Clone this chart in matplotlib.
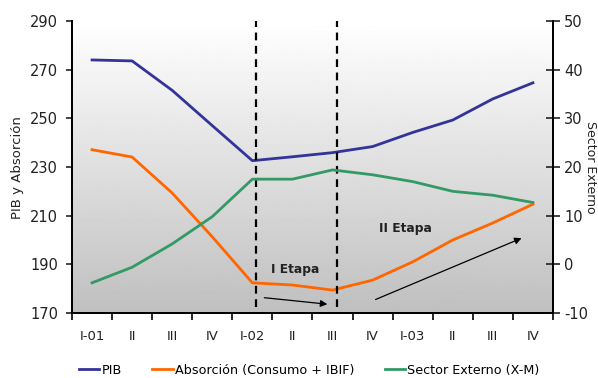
import numpy as np
import matplotlib
matplotlib.use("Agg")
import matplotlib.pyplot as plt

# trimestres 2001-2003
trimestres = ['I-01', 'II', 'III', 'IV', 'I-02', 'II', 'III', 'IV', 'I-03', 'II', 'III', 'IV']
pib = [274.0, 273.6, 261.5, 247.0, 232.6, 234.2, 235.9, 238.4, 244.2, 249.3, 258.0, 264.6]
absorcion = [237.1, 234.1, 219.3, 201.3, 182.4, 181.5, 179.4, 183.5, 191.0, 200.0, 207.0, 214.7]
sector_externo = [-3.8, -0.6, 4.2, 9.8, 17.5, 17.5, 19.4, 18.4, 17.0, 15.0, 14.2, 12.7]

etapas_x = [4.09, 6.1]

plt.rcParams['font.family'] = ['DejaVu Sans']
plt.rcParams['axes.unicode_minus'] = False
fig = plt.figure(figsize=(5.98, 3.78), dpi=100)
ax = fig.add_axes([0.1204, 0.172, 0.8043, 0.7724])
ax2 = ax.twinx()

x = np.arange(len(trimestres))

# fondo degradado
grad = np.linspace(0.75, 1.0, 256).reshape(-1, 1)
ax.imshow(grad, cmap='gray', vmin=0, vmax=1, aspect='auto', origin='lower',
          extent=[0, 1, 0, 1], transform=ax.transAxes, zorder=0)

ax.plot(x, pib, color='#333399', lw=2.0, zorder=3)
ax.plot(x, absorcion, color='#FF6600', lw=2.0, zorder=3)
ax2.plot(x, sector_externo, color='#339966', lw=2.0, zorder=3)

for xv in etapas_x:
    ax.axvline(xv, ymin=0.02, ymax=1, color='black', lw=1.6, ls=(0, (3.5, 2.5)), zorder=4)

ax.annotate('', xy=(5.94, 173.5), xytext=(4.23, 176.4),
            arrowprops=dict(arrowstyle='-|>', color='black', lw=0.9, mutation_scale=10), zorder=5)
ax.annotate('', xy=(10.78, 201.2), xytext=(7.01, 175.1),
            arrowprops=dict(arrowstyle='-|>', color='black', lw=0.9, mutation_scale=10), zorder=5)
ax.text(5.06, 187.7, 'I Etapa', fontsize=8.8, fontweight='bold', ha='center', va='center', color='#222222')
ax.text(7.83, 204.9, 'II Etapa', fontsize=8.8, fontweight='bold', ha='center', va='center', color='#222222')

ax.set_xlim(-0.5, 11.5)
ax.set_ylim(170, 290)
ax.set_yticks(np.arange(170, 291, 20))
ax2.set_ylim(-10, 50)
ax2.set_yticks(np.arange(-10, 51, 10))

ax.set_xticks(np.arange(-0.5, 12, 1))
ax.set_xticklabels([])
ax.set_xticks(x, minor=True)
ax.set_xticklabels(trimestres, minor=True)
ax.tick_params(axis='x', which='major', direction='out', length=5, width=1.2)
ax.tick_params(axis='x', which='minor', length=0, pad=12, labelsize=9.5, colors='#222222')
ax.tick_params(axis='y', direction='out', length=4, width=1.2, labelsize=10.5, pad=6, colors='#222222')
ax2.tick_params(axis='y', direction='inout', length=10, width=1.2, labelsize=10.5, pad=3, colors='#222222')

for a in (ax, ax2):
    a.spines['top'].set_visible(False)
    for s in ('left', 'right', 'bottom'):
        a.spines[s].set_linewidth(1.3)

fig.text(0.030, 0.558, 'PIB y Absorción', rotation=90, ha='center', va='center', fontsize=9.5, color='#222222')
fig.text(0.988, 0.558, 'Sector Externo', rotation=270, ha='center', va='center', fontsize=9, color='#222222')

handles = [plt.Line2D([], [], color=c, lw=2.0) for c in ('#333399', '#FF6600', '#339966')]
fig.legend(handles, ['PIB', 'Absorción (Consumo + IBIF)', 'Sector Externo (X-M)'],
           loc='center', bbox_to_anchor=(0.517, 0.021), ncol=3, frameon=False, fontsize=9.2,
           handlelength=1.6, handletextpad=0.15, columnspacing=2.4)

fig.savefig('out.png', dpi=100)
